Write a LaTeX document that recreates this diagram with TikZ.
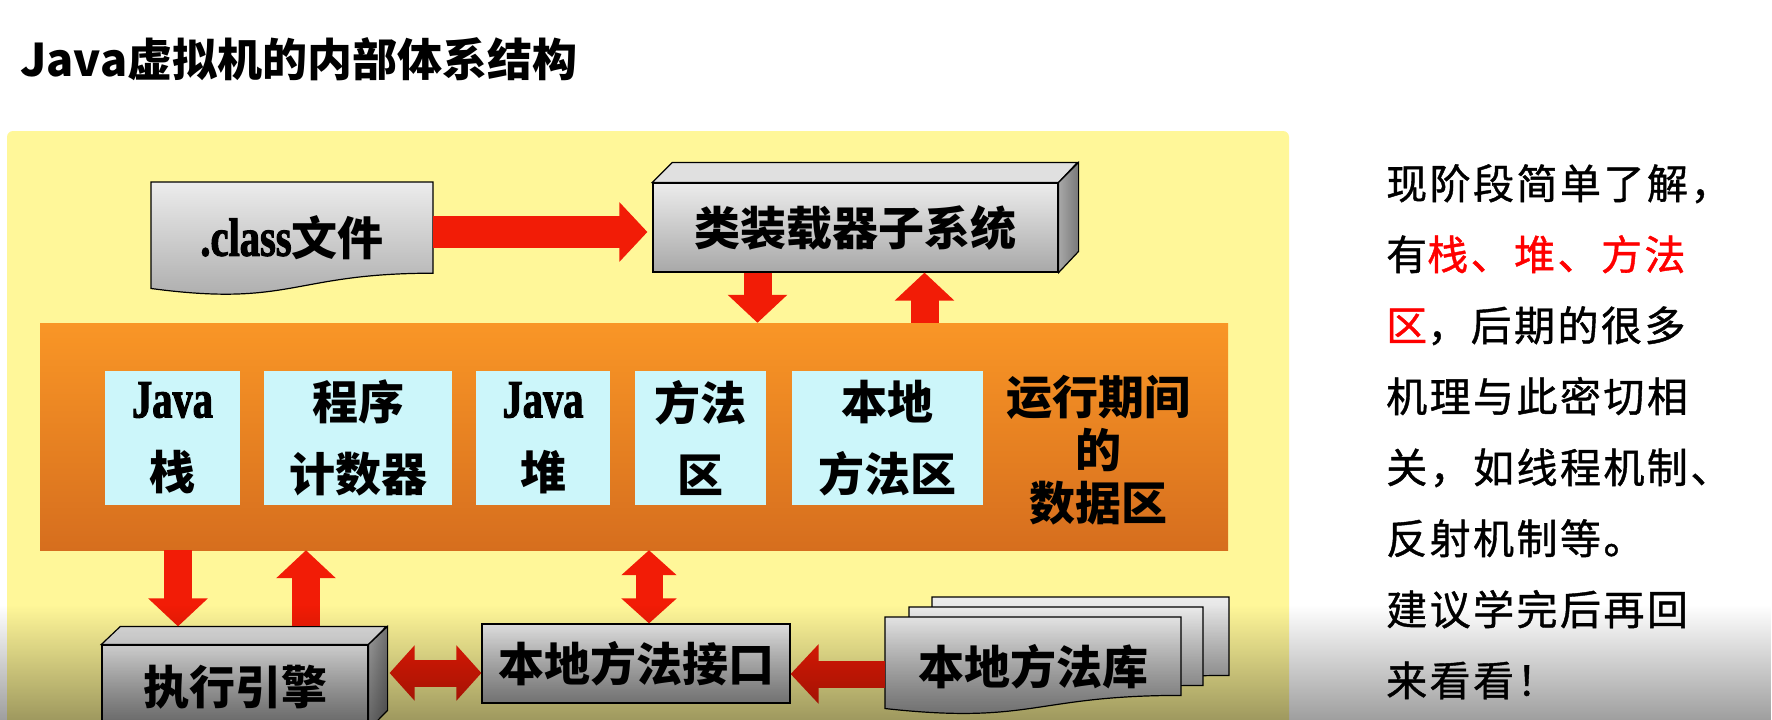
\documentclass[tikz,border=0pt]{standalone}
\usepackage{fontspec}
\setmainfont{Noto Sans CJK SC}
\newfontfamily\lat[FakeStretch=0.75, FakeBold=1.8, UprightFont={* Bold}, BoldFont={* Bold}]{Liberation Serif}
\newfontfamily\side[LetterSpace=6, FakeBold=1]{Noto Sans CJK SC}
\usetikzlibrary{arrows.meta,calc,fadings}

\definecolor{panelyellow}{RGB}{255,247,153}
\definecolor{dataorange}{RGB}{249,150,38}
\definecolor{dataorangedark}{RGB}{214,110,30}
\definecolor{areacyan}{RGB}{204,246,250}
\definecolor{arrowred}{RGB}{242,28,6}
\definecolor{boxlight}{RGB}{236,236,236}
\definecolor{boxdark}{RGB}{168,168,168}
\definecolor{boxtop}{RGB}{224,224,224}
\definecolor{boxside}{RGB}{120,120,120}

\tikzfading[name=dimdown, top color=transparent!100, bottom color=transparent!62]

\begin{document}
\begin{tikzpicture}[x=1pt, y=-1pt,
    front/.style={rectangle, draw=black, line width=1.2pt, top color=boxlight, bottom color=boxdark, inner sep=0pt, font=\bfseries\fontsize{46}{50}\selectfont},
    topface/.style={draw=black, line width=1.2pt, fill=boxtop},
    sideface/.style={draw=black, line width=1.2pt, left color=boxdark, right color=boxside},
    docbox/.style={draw=black, line width=1.2pt, top color=boxlight, bottom color=boxdark},
    doclabel/.style={inner sep=0pt, font=\bfseries\fontsize{46}{50}\selectfont},
    area/.style={rectangle, fill=areacyan, inner sep=0pt, minimum height=134pt, align=center, font=\bfseries\fontsize{46}{72}\selectfont},
    redarrow/.style={draw=arrowred, line width=28pt, -{Triangle[length=28pt, width=58pt]}},
    redboth/.style={draw=arrowred, line width=27pt, {Triangle[length=25pt, width=54pt]}-{Triangle[length=25pt, width=54pt]}},
    docpath/.style n args={4}{insert path={(#1,#2) -- ({#1+#3},#2) -- ({#1+#3},{#2+0.8*#4}) .. controls ({#1+0.5*#3},{#2+0.8*#4}) and ({#1+0.5*#3},{#2+1.1*#4}) .. (#1,{#2+0.934*#4}) -- cycle}}
]
\useasboundingbox (0,0) rectangle (1772,720);
\clip (0,0) rectangle (1772,720);
\fill[white] (0,0) rectangle (1772,720);

% title
\node[anchor=west, inner sep=0pt, font=\bfseries\fontsize{45}{50}\selectfont] (title) at (20,59) {Java虚拟机的内部体系结构};

% yellow panel
\fill[panelyellow, rounded corners=6pt] (7,131) rectangle (1289,780);

% class file
\draw[docbox, docpath={151}{182}{282}{114}];
\node[doclabel, minimum width=282pt, minimum height=112pt] (cls) at (292,238) {{\lat\fontsize{54}{60}\selectfont .class}文件};

% class loader
\node[front, minimum width=405pt, minimum height=89pt] (loader) at (855.5,227.5) {类装载器子系统};
\draw[topface] (loader.north west) -- ++(20,-20) -- ++(405,0) -- (loader.north east) -- cycle;
\draw[sideface] (loader.north east) -- ++(20,-20) -- ++(0,89) -- (loader.south east) -- cycle;

% runtime data area
\node[rectangle, inner sep=0pt, top color=dataorange, bottom color=dataorangedark, minimum width=1188pt, minimum height=227pt] (data) at (634,436.5) {};
\node[area, minimum width=135pt] (jstack) at (172.5,438) {{\lat\fontsize{54}{72}\selectfont Java}\\栈};
\node[area, minimum width=188pt] (pc) at (358,438) {程序\\计数器};
\node[area, minimum width=134pt] (jheap) at (543,438) {{\lat\fontsize{54}{72}\selectfont Java}\\堆};
\node[area, minimum width=131pt] (method) at (700.5,438) {方法\\区};
\node[area, minimum width=191pt] (native) at (887.5,438) {本地\\方法区};
\node[align=center, inner sep=0pt, font=\bfseries\fontsize{46}{53}\selectfont] (datalabel) at (1098,450) {运行期间\\的\\数据区};

% execution engine
\node[front, minimum width=266pt, minimum height=84pt] (engine) at (235,687) {执行引擎};
\draw[topface] (engine.north west) -- ++(19,-18) -- ++(266,0) -- (engine.north east) -- cycle;
\draw[sideface] (engine.north east) -- ++(19,-18) -- ++(0,84) -- (engine.south east) -- cycle;

% native interface
\node[front, minimum width=308pt, minimum height=79pt] (jni) at (636,663.5) {本地方法接口};

% native library
\draw[docbox, docpath={932}{597}{297}{98}];
\draw[docbox, docpath={909}{607}{294}{98}];
\draw[docbox, docpath={885}{617}{296}{98}];
\node[doclabel, minimum width=296pt, minimum height=100pt] (lib) at (1033,667) {本地方法库};

% arrows
\draw[redarrow, line width=32pt, shorten >=5pt] ([yshift=6pt]cls.east) -- ([yshift=6pt]cls.east -| loader.west);
\draw[redarrow] ([xshift=-98pt]loader.south) -- ([xshift=-98pt]loader.south |- data.north);
\draw[redarrow] ([xshift=69pt]loader.south |- data.north) -- ([xshift=69pt]loader.south);
\draw[redarrow] ([xshift=-57pt]engine.north |- data.south) -- ([xshift=-57pt, yshift=18pt]engine.north);
\draw[redarrow] ([xshift=71pt, yshift=18pt]engine.north) -- ([xshift=71pt]engine.north |- data.south);
\draw[redboth] ([xshift=13pt]jni.north |- data.south) -- ([xshift=13pt]jni.north);
\coordinate (eside) at ([shift={(21pt,14pt)}]engine.east);
\draw[redboth] (eside) -- (eside -| jni.west);
\coordinate (libin) at ([yshift=-7pt]lib.west);
\draw[redarrow, line width=27pt] (libin) -- (libin -| jni.east);

% side note
\node[anchor=north west, align=left, inner sep=0pt, font=\side\fontsize{41}{71}\selectfont] (note) at (1386,164) {现阶段简单了解，\\有{\color{red}栈、堆、方法}\\{\color{red}区}，后期的很多\\机理与此密切相\\关，如线程机制、\\反射机制等。\\建议学完后再回\\来看看！};

% dim bottom edge
\fill[black, path fading=dimdown] (0,605) rectangle (1772,720);
\end{tikzpicture}
\end{document}
